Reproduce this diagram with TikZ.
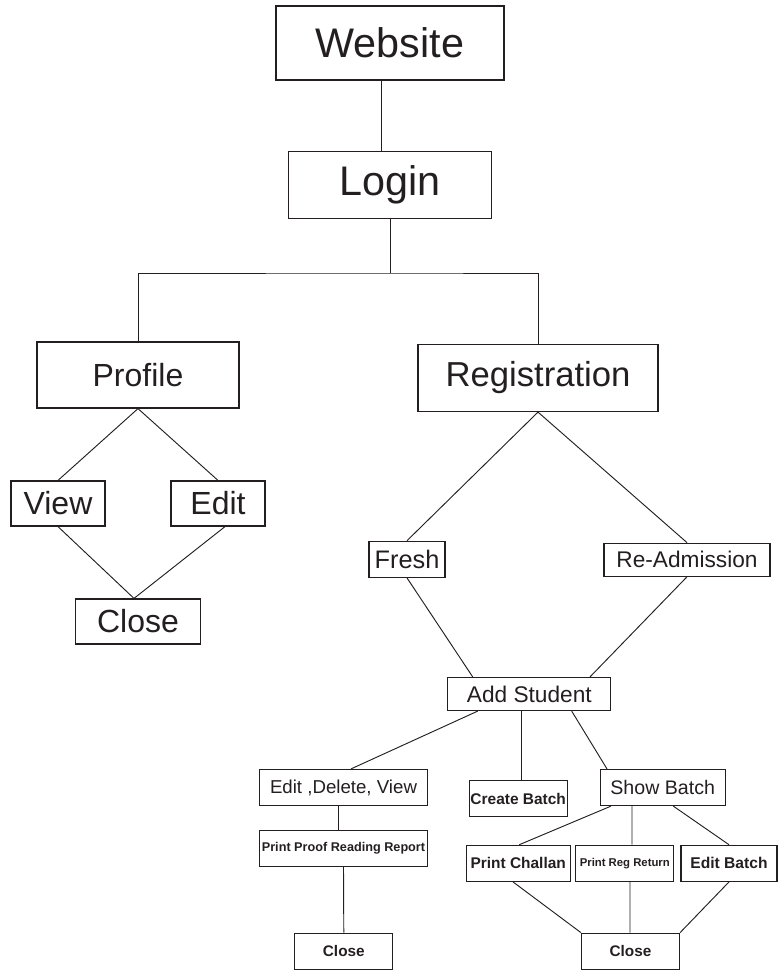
\documentclass[tikz,border=0pt]{standalone}
\usepackage{fontspec}
\setmainfont{Liberation Sans}
\usepackage{xcolor}
\usepackage{tikz}
\usetikzlibrary{calc}
\definecolor{InkGrey}{HTML}{231F20}

\begin{document}
\begin{tikzpicture}[
    x=0.75pt, y=-0.75pt,
    every node/.style={text=InkGrey},
    box/.style 2 args={
      draw=InkGrey, line width=0.9pt, inner sep=0pt,
      minimum width=#1*0.75pt, minimum height=#2*0.75pt
    },
    fs/.style={font=\fontsize{#1}{#1}\selectfont},
    fb/.style={font=\bfseries\fontsize{#1}{#1}\selectfont},
    link/.style={draw=InkGrey, line width=0.7pt}
  ]
    \useasboundingbox (0,0) rectangle (778,972);

    \node[box={228}{74}, fs=31] (web) at (390,43) {Website};
    \node[box={203}{67}, fs=31] (login) at (390,185) {Login};
    \coordinate (split) at (390,273);
    \node[box={202}{66}, fs=24] (profile) at (138,375) {Profile};
    \node[box={240}{67}, fs=26] (reg) at (538,378) {Registration};
    \node[box={94}{45}, fs=24] (view) at (58,503.5) {View};
    \node[box={94}{45}, fs=24] (edit) at (218,503.5) {Edit};
    \node[box={125}{45}, fs=24] (closeP) at (138,621.5) {Close};
    \node[box={76}{36}, fs=19] (fresh) at (407,559.3) {Fresh};
    \node[box={166}{33}, fs=17] (readm) at (687,559.7) {Re-Admission};
    \node[box={163}{33}, fs=17] (add) at (529.3,694) {Add Student};
    \node[box={168}{36}, fs=14] (edv) at (343.5,787.5) {Edit ,Delete, View};
    \node[box={98}{36}, fb=11.6] (cbatch) at (518.2,798.8) {Create Batch};
    \node[box={125}{36}, fs=14.7] (sbatch) at (662.7,787.5) {Show Batch};
    \node[box={168}{36}, fb=9.5] (pprr) at (343.5,848.3) {Print Proof Reading Report};
    \node[box={98}{36}, fb=11.5] (closeE) at (343.8,951.2) {Close};
    \node[box={104}{36}, fb=11.6] (pch) at (518.2,863.3) {Print Challan};
    \node[box={98}{36}, fb=8.5] (prr) at (624.8,863.3) {Print Reg Return};
    \node[box={96}{36}, fb=11.7] (ebatch) at (729,863.3) {Edit Batch};
    \node[box={98}{36}, fb=11.5] (closeB) at (630.5,951.2) {Close};

    \draw[link] ($(web.south)+(-8.5,0)$) -- ($(login.north)+(-8.5,0)$);
    \draw[link] (login.south) -- (split);
    \draw[link] (profile.north) |- (split) -| (reg.north);
    \draw[link] (view.north) -- (profile.south) -- (edit.north);
    \draw[link] (view.south) -- ($(closeP.north)+(-4,0)$) -- ($(edit.south)+(7,0)$);
    \draw[link] (fresh.north) -- (reg.south) -- (readm.north);
    \draw[link] (fresh.south) -- ($(add.north)+(-56.6,0)$);
    \draw[link] (readm.south) -- ($(add.north)+(60.7,0)$);
    \draw[link] ($(add.south)+(-51.6,0)$) -- ($(edv.north)+(7.5,0)$);
    \draw[link] ($(add.south)+(-7.6,0)$) -- ($(cbatch.north)+(3.5,0)$);
    \draw[link] ($(add.south)+(42.4,0)$) -- ($(sbatch.north)+(-55.7,0)$);
    \draw[link] ($(edv.south)+(-5.5,0)$) -- ($(pprr.north)+(-5.5,0)$);
    \draw[link] (pprr.south) -- (closeE.north);
    \draw[link] ($(sbatch.south)+(-51.7,0)$) -- ($(pch.north)+(1.1,0)$);
    \draw[link] ($(sbatch.south)+(-30.7,0)$) -- ($(prr.north)+(7.2,0)$);
    \draw[link] ($(sbatch.south)+(10.6,0)$) -- (ebatch.north);
    \draw[link] ($(pch.south)+(-5.2,0)$) -- (closeB.north west);
    \draw[link] ($(prr.south)+(5.2,0)$) -- ($(closeB.north)+(-0.5,0)$);
    \draw[link] (ebatch.south) -- (closeB.north east);
\end{tikzpicture}
\end{document}
